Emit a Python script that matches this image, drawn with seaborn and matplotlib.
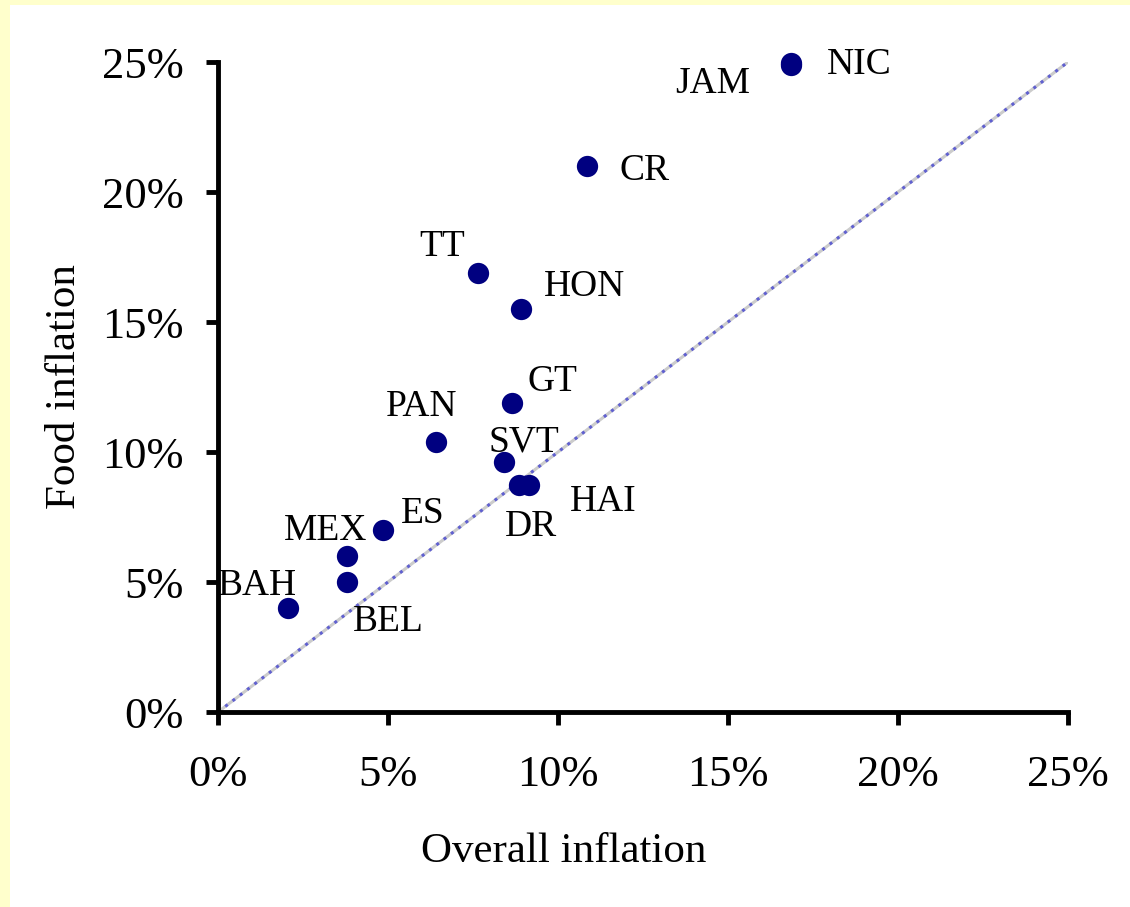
import numpy as np
import pandas as pd
import seaborn as sns
import matplotlib.pyplot as plt
import matplotlib.patches as patches
from matplotlib.ticker import FuncFormatter

# data (percent)
countries = ['NIC', 'JAM', 'CR', 'TT', 'HON', 'GT', 'PAN', 'SVT',
             'HAI', 'DR', 'ES', 'MEX', 'BEL', 'BAH']
overall = [16.85, 16.85, 10.85, 7.65, 8.9, 8.65, 6.4, 8.4,
           9.15, 8.85, 4.85, 3.8, 3.8, 2.05]
food = [24.9, 24.95, 21.0, 16.9, 15.5, 11.9, 10.4, 9.6,
        8.75, 8.75, 7.0, 6.0, 5.0, 4.0]

# label placement (pixel offsets from the point, ha)
label_pos = {
    'NIC': (36, 0, 'left'), 'JAM': (-41, -20, 'right'), 'CR': (33, -5, 'left'),
    'TT': (-13, 26, 'right'), 'HON': (23, 22, 'left'), 'GT': (15, 21, 'left'),
    'PAN': (-50, 35, 'left'), 'SVT': (-15, 20, 'left'), 'HAI': (41, -17, 'left'),
    'DR': (-14, -42, 'left'), 'ES': (18, 16, 'left'), 'MEX': (-63, 25, 'left'),
    'BEL': (6, -40, 'left'), 'BAH': (-70, 22, 'left'),
}

df = pd.DataFrame({'country': countries, 'overall': overall, 'food': food})

sns.set_style("ticks", {'text.color': 'black', 'axes.labelcolor': 'black',
                        'xtick.color': 'black', 'ytick.color': 'black'})
plt.rcParams['font.family'] = ['Liberation Serif', 'DejaVu Serif']

fig = plt.figure(figsize=(11.3, 9.07), dpi=100, facecolor='#FFFFCC')
fig.patches.append(patches.Rectangle(
    (10 / 1130, 0), 1, 1 - 5 / 907, transform=fig.transFigure,
    facecolor='white', edgecolor='none', zorder=-1))

ax = fig.add_axes([218 / 1130, 1 - 712 / 907, 850 / 1130, 650 / 907])
ax.set_facecolor('none')

# 45 degree reference line
ax.plot([0, 25], [0, 25], color='#cccccc', lw=2.2, zorder=1)
ax.plot([0, 25], [0, 25], color='#6060d0', lw=2.2, ls=(0, (1, 2)), zorder=2)

sns.scatterplot(data=df, x='overall', y='food', ax=ax, marker='o', s=235,
                color='#000080', edgecolor='#000080', linewidth=0, zorder=3,
                clip_on=False)

for c, xv, yv in zip(countries, overall, food):
    dx, dy, ha = label_pos[c]
    ax.annotate(c, (xv, yv), xytext=(dx, dy), textcoords='offset pixels',
                ha=ha, va='center', fontsize=27, color='black')

ax.set_xlim(0, 25)
ax.set_ylim(0, 25)
ax.set_xticks(np.arange(0, 26, 5))
ax.set_yticks(np.arange(0, 26, 5))
pct = FuncFormatter(lambda v, p: f'{v:.0f}%')
ax.xaxis.set_major_formatter(pct)
ax.yaxis.set_major_formatter(pct)
ax.tick_params(axis='both', labelsize=32, width=3.5, length=9,
               color='black', labelcolor='black')
ax.tick_params(axis='x', pad=22)
ax.tick_params(axis='y', pad=16)

sns.despine(ax=ax)
for side in ['left', 'bottom']:
    ax.spines[side].set_linewidth(3.5)
    ax.spines[side].set_color('black')

ax.set_xlabel('Overall inflation', fontsize=31, color='black')
ax.set_ylabel('Food inflation', fontsize=31, color='black')
ax.xaxis.set_label_coords((564 - 218) / 850, -(852 - 712) / 650)
ax.yaxis.set_label_coords(-(218 - 65) / 850, 0.5)
ax.xaxis.label.set_va('center')
ax.yaxis.label.set_va('center')

fig.savefig('out.png', dpi=100, facecolor=fig.get_facecolor())
